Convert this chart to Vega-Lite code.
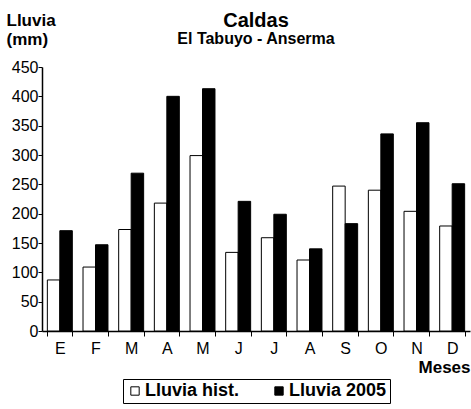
{
  "$schema": "https://vega.github.io/schema/vega-lite/v6.json",
  "autosize": "none",
  "width": 428,
  "height": 264,
  "padding": {"left": 42, "top": 67, "right": 1, "bottom": 78},
  "background": "white",
  "title": {
    "text": "Caldas",
    "subtitle": "El Tabuyo - Anserma",
    "anchor": "middle",
    "frame": "group",
    "font": "Liberation Sans",
    "fontSize": 20,
    "fontWeight": "bold",
    "color": "black",
    "subtitleFont": "Liberation Sans",
    "subtitleFontSize": 16,
    "subtitleFontWeight": "bold",
    "subtitleColor": "black",
    "subtitlePadding": 0,
    "offset": -36
  },
  "data": {
    "values": [
      {"mes": "Ene", "serie": "Lluvia hist.", "lluvia": 87},
      {"mes": "Ene", "serie": "Lluvia 2005", "lluvia": 171},
      {"mes": "Feb", "serie": "Lluvia hist.", "lluvia": 109},
      {"mes": "Feb", "serie": "Lluvia 2005", "lluvia": 147},
      {"mes": "Mar", "serie": "Lluvia hist.", "lluvia": 173},
      {"mes": "Mar", "serie": "Lluvia 2005", "lluvia": 269},
      {"mes": "Abr", "serie": "Lluvia hist.", "lluvia": 218},
      {"mes": "Abr", "serie": "Lluvia 2005", "lluvia": 400},
      {"mes": "May", "serie": "Lluvia hist.", "lluvia": 299},
      {"mes": "May", "serie": "Lluvia 2005", "lluvia": 413},
      {"mes": "Jun", "serie": "Lluvia hist.", "lluvia": 134},
      {"mes": "Jun", "serie": "Lluvia 2005", "lluvia": 221},
      {"mes": "Jul", "serie": "Lluvia hist.", "lluvia": 159},
      {"mes": "Jul", "serie": "Lluvia 2005", "lluvia": 199},
      {"mes": "Ago", "serie": "Lluvia hist.", "lluvia": 121},
      {"mes": "Ago", "serie": "Lluvia 2005", "lluvia": 140},
      {"mes": "Sep", "serie": "Lluvia hist.", "lluvia": 247},
      {"mes": "Sep", "serie": "Lluvia 2005", "lluvia": 183},
      {"mes": "Oct", "serie": "Lluvia hist.", "lluvia": 240},
      {"mes": "Oct", "serie": "Lluvia 2005", "lluvia": 336},
      {"mes": "Nov", "serie": "Lluvia hist.", "lluvia": 204},
      {"mes": "Nov", "serie": "Lluvia 2005", "lluvia": 355},
      {"mes": "Dic", "serie": "Lluvia hist.", "lluvia": 179},
      {"mes": "Dic", "serie": "Lluvia 2005", "lluvia": 251}
    ]
  },
  "mark": {"type": "bar", "stroke": "black", "strokeWidth": 1},
  "encoding": {
    "x": {
      "field": "mes",
      "type": "nominal",
      "sort": null,
      "scale": {"paddingInner": 0.3, "paddingOuter": 0.15},
      "axis": {
        "title": "Meses",
        "titleX": 428,
        "titleY": 45,
        "titleAlign": "right",
        "titleBaseline": "bottom",
        "titleFont": "Liberation Sans",
        "titleFontSize": 17,
        "titleFontWeight": "bold",
        "titleColor": "black",
        "labelExpr": "substring(datum.label, 0, 1)",
        "labelAngle": 0,
        "labelFont": "Liberation Sans",
        "labelFontSize": 16,
        "labelColor": "black",
        "labelPadding": 4,
        "tickBand": "extent",
        "tickSize": 5,
        "tickColor": "black",
        "domainColor": "black",
        "domainWidth": 1.5
      }
    },
    "xOffset": {
      "field": "serie",
      "type": "nominal",
      "sort": ["Lluvia hist.", "Lluvia 2005"],
      "scale": {"paddingInner": 0}
    },
    "y": {
      "field": "lluvia",
      "type": "quantitative",
      "scale": {"domain": [0, 450], "nice": false},
      "axis": {
        "values": [0, 50, 100, 150, 200, 250, 300, 350, 400, 450],
        "grid": false,
        "title": ["Lluvia", "(mm)"],
        "titleAngle": 0,
        "titleAlign": "left",
        "titleBaseline": "top",
        "titleX": -36,
        "titleY": -55,
        "titleFont": "Liberation Sans",
        "titleFontSize": 17,
        "titleFontWeight": "bold",
        "titleLineHeight": 19,
        "titleColor": "black",
        "labelFont": "Liberation Sans",
        "labelFontSize": 16,
        "labelColor": "black",
        "labelPadding": 0,
        "tickSize": 4,
        "tickColor": "black",
        "domainColor": "black",
        "domainWidth": 1.5
      }
    },
    "fill": {
      "field": "serie",
      "type": "nominal",
      "sort": ["Lluvia hist.", "Lluvia 2005"],
      "scale": {"domain": ["Lluvia hist.", "Lluvia 2005"], "range": ["white", "black"]},
      "legend": {
        "title": null,
        "orient": "none",
        "legendX": 81,
        "legendY": 312,
        "direction": "horizontal",
        "columns": 2,
        "strokeColor": "black",
        "padding": 3,
        "symbolType": "square",
        "symbolSize": 70,
        "symbolStrokeColor": "black",
        "symbolStrokeWidth": 1,
        "labelFont": "Liberation Sans",
        "labelFontSize": 18,
        "labelFontWeight": "bold",
        "labelColor": "black",
        "labelOffset": 1,
        "columnPadding": 30
      }
    }
  },
  "config": {"view": {"stroke": null}}
}
